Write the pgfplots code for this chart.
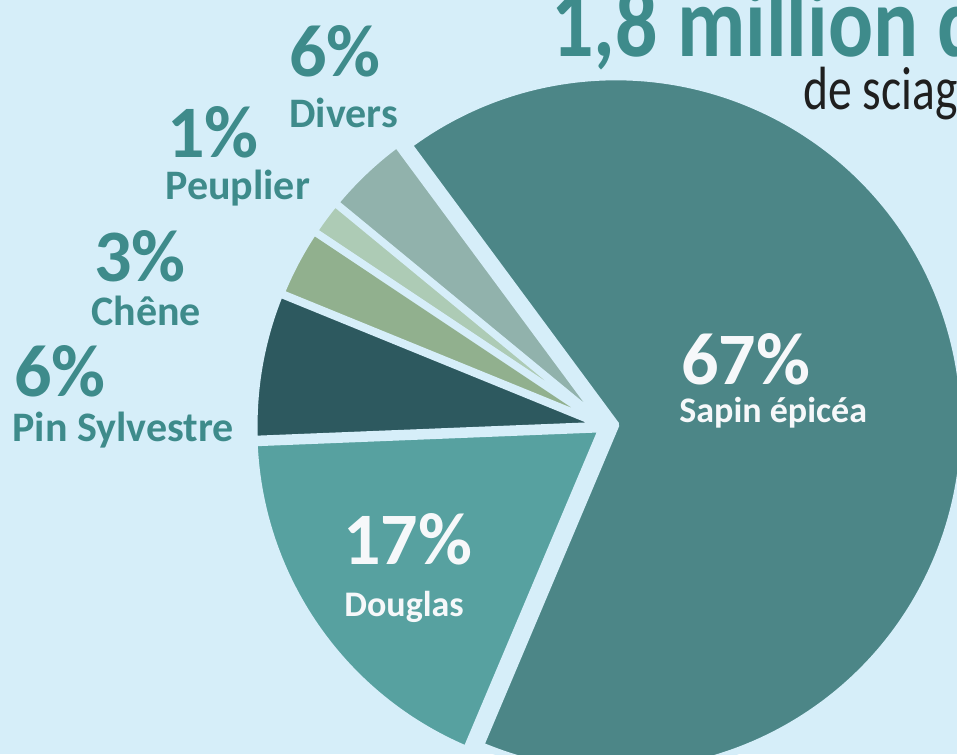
\documentclass[border=0pt]{standalone}
\usepackage{fontspec}
\setmainfont{Carlito}
\usepackage{graphicx}
\usepackage{pgfplots}
\usepackage{pgfplotstable}
\pgfplotsset{compat=1.18}
\definecolor{bg}{HTML}{D6EEF9}
\definecolor{txt}{HTML}{3E8B8B}
\definecolor{wht}{HTML}{F6F8FA}
\definecolor{cSap}{HTML}{4C8687}
\definecolor{cDou}{HTML}{57A1A0}
\definecolor{cPin}{HTML}{2D595F}
\definecolor{cChe}{HTML}{91B08E}
\definecolor{cPeu}{HTML}{ADCBB5}
\definecolor{cDiv}{HTML}{91B2AC}
% slice shares (as drawn), explosion in px, colour
\pgfplotstableread{
pct ex col
3.9 3 cDiv
1.6 3 cPeu
3.2 3 cChe
6.8 4 cPin
18.0 5 cDou
66.5 10 cSap
}\pietable
\newcommand{\pct}[1]{\fontsize{37pt}{37pt}\selectfont\bfseries #1}
\newcommand{\nm}[1]{\fontsize{21pt}{21pt}\selectfont\bfseries #1}
\begin{document}
\begin{tikzpicture}
\begin{axis}[scale only axis, width=478.5pt, height=377pt,
  xmin=0, xmax=957, ymin=0, ymax=754, hide axis, clip=true]
\fill[bg] (axis cs:0,0) rectangle (axis cs:957,754);
\xdef\sCum{126.5}
\pgfplotsinvokeforeach{0,...,5}{%
  \pgfplotstablegetelem{#1}{pct}\of\pietable \let\sP\pgfplotsretval
  \pgfplotstablegetelem{#1}{ex}\of\pietable \let\sE\pgfplotsretval
  \pgfplotstablegetelem{#1}{col}\of\pietable \let\sC\pgfplotsretval
  \pgfmathsetmacro\sA{\sCum}
  \pgfmathsetmacro\sB{\sCum+3.6*\sP}
  \pgfmathsetmacro\sM{(\sA+\sB)/2}
  \pgfmathsetmacro\sX{606+\sE*cos(\sM)}
  \pgfmathsetmacro\sY{328+\sE*sin(\sM)}
  \edef\tmp{\noexpand\filldraw[fill=\sC, draw=bg, line width=3.5pt, line join=round]
    (axis cs:\sX,\sY) -- ++(\sA:174pt) arc[start angle=\sA, end angle=\sB, radius=174pt] -- cycle;}
  \tmp
  \xdef\sCum{\sB}
}
% title
\node[anchor=base west, inner sep=0, text=txt, font=\fontsize{50pt}{50pt}\selectfont\bfseries] at (axis cs:551,697) {\scalebox{0.84}[1]{1,8 million de}};
\node[anchor=base west, inner sep=0, text=black!88, font=\fontsize{30.5pt}{30.5pt}\selectfont] at (axis cs:803,644) {\scalebox{0.78}[1]{de sciages}};
% outside labels
\node[anchor=base west, inner sep=0, text=txt] at (axis cs:289,677) {\pct{6\%}};
\node[anchor=base west, inner sep=0, text=txt] at (axis cs:289,626) {\nm{Divers}};
\node[anchor=base west, inner sep=0, text=txt] at (axis cs:167,596) {\pct{1\%}};
\node[anchor=base west, inner sep=0, text=txt] at (axis cs:165,554) {\nm{Peuplier}};
\node[anchor=base west, inner sep=0, text=txt] at (axis cs:94,472) {\pct{3\%}};
\node[anchor=base west, inner sep=0, text=txt] at (axis cs:91,428) {\nm{Chêne}};
\node[anchor=base west, inner sep=0, text=txt] at (axis cs:14,357) {\pct{6\%}};
\node[anchor=base west, inner sep=0, text=txt] at (axis cs:12,312) {\nm{Pin Sylvestre}};
% inside labels
\node[anchor=base west, inner sep=0, text=wht] at (axis cs:681,369) {\pct{67\%}};
\node[anchor=base west, inner sep=0, text=wht, font=\fontsize{18pt}{18pt}\selectfont\bfseries] at (axis cs:679,331) {Sapin épicéa};
\node[anchor=base west, inner sep=0, text=wht] at (axis cs:343,189) {\pct{17\%}};
\node[anchor=base west, inner sep=0, text=wht, font=\fontsize{18pt}{18pt}\selectfont\bfseries] at (axis cs:344,137) {Douglas};
\end{axis}
\pgfresetboundingbox
\path[use as bounding box] (0,0) rectangle (478.5pt,377pt);
\end{tikzpicture}
\end{document}
